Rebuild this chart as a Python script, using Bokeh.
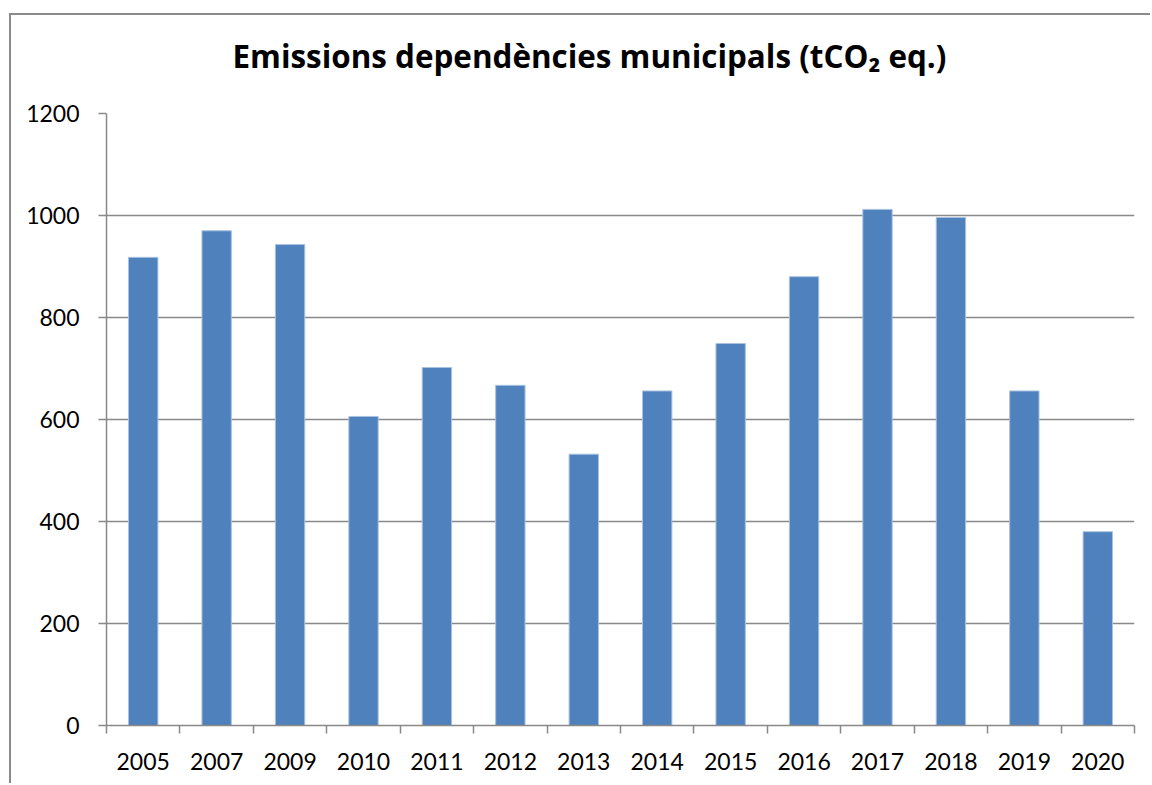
from bokeh.plotting import figure
from bokeh.models import FixedTicker, Range1d, ColumnDataSource
from bokeh.embed import file_html
from bokeh.resources import INLINE
import numpy as np

years = ["2005", "2007", "2009", "2010", "2011", "2012", "2013",
         "2014", "2015", "2016", "2017", "2018", "2019", "2020"]
emissions = [918, 970, 943, 606, 702, 667, 532, 656, 749, 880, 1012, 996, 656, 380]
y_ticks = [0, 200, 400, 600, 800, 1000, 1200]
title_text = "Emissions dependències municipals (tCO₂ eq.)"

FONT = "Lato"
TITLE_FONT = "Open Sans"
BAR = "#4F81BD"
BAR_EDGE = "#a9c2e2"
GRID = "#898989"
FRAME = "#8a8a8a"

xs = np.arange(len(years)) + 0.5
src = ColumnDataSource(dict(x=xs, y=emissions, year=years))

p = figure(width=1150, height=793,
           x_range=Range1d(0, len(years)), y_range=Range1d(0, y_ticks[-1]),
           output_backend="svg", toolbar_location=None,
           min_border_left=106, min_border_right=16,
           min_border_top=123, min_border_bottom=58)

p.vbar(x="x", top="y", width=0.4, source=src,
       fill_color=BAR, line_color=BAR_EDGE, line_width=1)

# x axis: labels at category centres, ticks at category boundaries
xa = p.xaxis[0]
xa.ticker = FixedTicker(ticks=list(xs), minor_ticks=list(range(len(years) + 1)))
xa.major_label_overrides = {float(x): y for x, y in zip(xs, years)}
xa.major_tick_out = 0
xa.major_tick_in = 0
xa.minor_tick_out = 8
xa.minor_tick_in = 0
xa.minor_tick_line_color = GRID
xa.minor_tick_line_width = 1.5
xa.axis_line_color = GRID
xa.axis_line_width = 1.5
xa.major_label_text_font = FONT
xa.major_label_text_font_size = "23px"
xa.major_label_text_color = "black"
xa.major_label_standoff = 19

ya = p.yaxis[0]
ya.ticker = FixedTicker(ticks=y_ticks)
ya.minor_tick_line_color = None
ya.major_tick_out = 8
ya.major_tick_in = 0
ya.major_tick_line_color = GRID
ya.major_tick_line_width = 1.5
ya.axis_line_color = GRID
ya.axis_line_width = 1.5
ya.major_label_text_font = FONT
ya.major_label_text_font_size = "23px"
ya.major_label_text_color = "black"
ya.major_label_standoff = 19

p.xgrid.visible = False
p.ygrid.ticker = FixedTicker(ticks=y_ticks)
p.ygrid.grid_line_color = GRID
p.ygrid.grid_line_width = 1.5

p.outline_line_color = None
p.background_fill_color = "white"
p.border_fill_color = None

p.title.text = title_text
p.title.text_font = TITLE_FONT
p.title.text_font_size = "31.4px"
p.title.text_font_style = "bold"
p.title.text_color = "black"
p.title.align = "left"
p.title.offset = 126
p.title.standoff = 73

# chart-area border (top and left edges; the others fall outside the window)
p.styles = {
    "margin-top": "-10px",
    "background-color": "white",
    "background-image": f"linear-gradient({FRAME}, {FRAME}), linear-gradient({FRAME}, {FRAME})",
    "background-position": "9px 23px, 9px 23px",
    "background-size": "calc(100% - 9px) 2px, 2px calc(100% - 23px)",
    "background-repeat": "no-repeat",
}

open("out.html", "w").write(file_html(p, INLINE))
